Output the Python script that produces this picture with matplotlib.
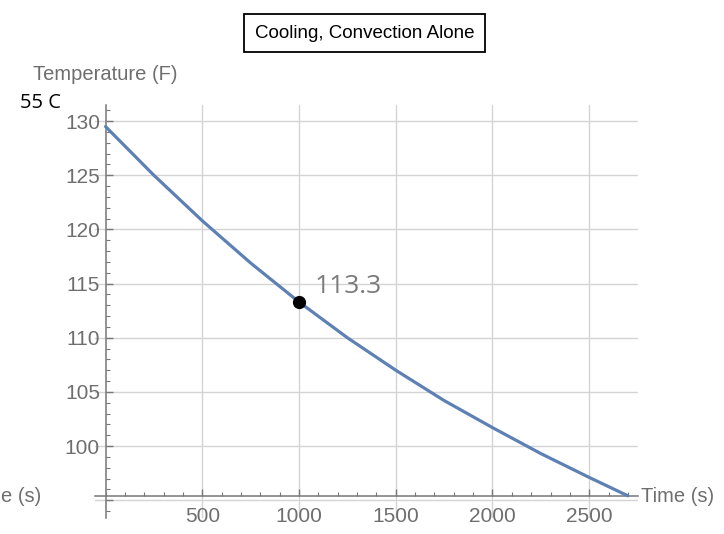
import numpy as np
import matplotlib
matplotlib.use('Agg')
import matplotlib.pyplot as plt
from matplotlib import font_manager
from matplotlib.ticker import FixedLocator, MultipleLocator

# temperature curve (time in s, temperature in F)
time_s = [0, 250, 500, 750, 1000, 1250, 1500, 1750, 2000, 2250, 2500, 2700]
temp_f = [129.5, 125.0, 120.8, 116.9, 113.3, 110.0, 107.0, 104.2, 101.7, 99.3, 97.1, 95.4]

# marked point
mark_t = 1000
mark_T = 113.3

x_ticks = [500, 1000, 1500, 2000, 2500]
y_grid = [95, 100, 105, 110, 115, 120, 125, 130]
y_labels = ['', '100', '105', '110', '115', '120', '125', '130']

names = {f.name for f in font_manager.fontManager.ttflist}
narrow = 'Liberation Sans Narrow' if 'Liberation Sans Narrow' in names else 'Liberation Sans'

W, H = 724, 534
fig = plt.figure(figsize=(W / 100, H / 100), dpi=100)

# axes placed in pixels: x -55..2750, y 93.4..131.5
left, right, top, bottom = 94.9, 637.6, 104.9, 517.5
ax = fig.add_axes([left / W, (H - bottom) / H, (right - left) / W, (bottom - top) / H])
ax.set_xlim(-55, 2750)
ax.set_ylim(93.4, 131.5)

grey = '#6e6e6e'
axis_col = '#777777'

ax.plot(time_s, temp_f, color='#5e81b5', lw=2.3, solid_capstyle='round',
        solid_joinstyle='round', zorder=3)
ax.plot([mark_t], [mark_T], 'o', color='black', ms=8.5, zorder=4)
ax.annotate(f'{mark_T}', (mark_t, mark_T), xytext=(11, 11), textcoords='offset points',
            ha='left', va='center', fontsize=19, color='#7a7a7a', family='Open Sans')

for s in ['top', 'right']:
    ax.spines[s].set_visible(False)
ax.spines['left'].set_position(('data', 0))
ax.spines['bottom'].set_position(('data', 95.4))
for s in ['left', 'bottom']:
    ax.spines[s].set_color(axis_col)
    ax.spines[s].set_linewidth(1.1)

ax.xaxis.set_major_locator(FixedLocator(x_ticks))
ax.xaxis.set_minor_locator(MultipleLocator(100))
ax.yaxis.set_major_locator(FixedLocator(y_grid))
ax.yaxis.set_ticklabels(y_labels)
ax.yaxis.set_minor_locator(MultipleLocator(1))

ax.tick_params(which='both', direction='in', colors=axis_col, labelcolor=grey,
               labelsize=15)
ax.tick_params(which='major', length=4.8, width=1.0)
ax.tick_params(which='minor', length=3.0, width=0.8)
ax.tick_params(axis='x', which='major', pad=8)
ax.tick_params(axis='y', which='major', pad=4)
for lab in ax.get_xticklabels() + ax.get_yticklabels():
    lab.set_family(narrow)

ax.grid(True, which='major', color='#d4d4d4', lw=1.0, zorder=0)
ax.set_axisbelow(True)

# axis labels and notes, placed in pixels
def px(x, y):
    return x / W, 1 - y / H

fig.text(*px(105, 75), 'Temperature (F)', ha='center', va='center', fontsize=14.5,
         color=grey, family=narrow)
fig.text(*px(641, 497), 'Time (s)', ha='left', va='center', fontsize=14.5,
         color=grey, family=narrow)
# remnant of a neighbouring label, cut at the left edge in the reference
fig.text(*px(1, 497), 'e (s)', ha='left', va='center', fontsize=14.5,
         color=grey, family=narrow)
fig.text(*px(40, 103), '55 C', ha='center', va='center', fontsize=14.5,
         color='black', family='Open Sans')
fig.text(*px(364.5, 33), 'Cooling, Convection Alone', ha='center', va='center',
         fontsize=13.5, color='black', family=narrow,
         bbox=dict(boxstyle='square,pad=0.55', fc='white', ec='black', lw=1.3))

fig.savefig('out.png', dpi=100)
